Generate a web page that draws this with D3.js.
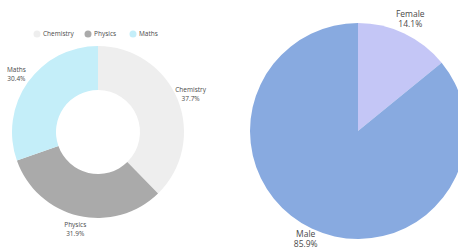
<!DOCTYPE html>
<html>
    <head>
        <script src="https://d3js.org/d3.v7.min.js"></script>
        <style>
          body { margin: 0; background: #ffffff; }
          #chart { width: 458px; height: 251px; position: relative; }
          text { font-family: "Open Sans", "Noto Sans", sans-serif; fill: #4a4a4a; }
      </style>
    </head>
    <body>
        <div id="chart"></div>
        <script>
            /* DATA */
            var subjects = ["Chemistry", "Physics", "Maths"];
            var subjectValues = [37.7, 31.9, 30.4];
            var subjectColors = ["#eeeeee", "#aaaaaa", "#c4eef9"];

            var genders = ["Female", "Male"];
            var genderValues = [14.1, 85.9];
            var genderColors = ["#c4c6f6", "#88aae0"];

            var width = 458, height = 251;
            var svg = d3.select("#chart").append("svg")
                .attr("width", width)
                .attr("height", height);

            var pie = d3.pie().sort(null).value(function(d) { return d.value; });

            /* DONUT */
            var donutData = subjects.map(function(s, i) { return {name: s, value: subjectValues[i], color: subjectColors[i]}; });
            var donut = svg.append("g").attr("transform", "translate(98,132)");
            var donutArc = d3.arc().innerRadius(42).outerRadius(86);
            var donutLabel = d3.arc().innerRadius(100).outerRadius(100);

            donut.selectAll("path")
                .data(pie(donutData))
                .enter()
                .append("path")
                    .attr("d", donutArc)
                    .attr("fill", function(d) { return d.data.color; });

            var dl = donut.selectAll("text.lbl")
                .data(pie(donutData))
                .enter()
                .append("text")
                    .attr("class", "lbl")
                    .attr("transform", function(d) { return "translate(" + donutLabel.centroid(d) + ")"; })
                    .attr("text-anchor", "middle")
                    .style("font-size", "6.5px");
            dl.append("tspan").attr("x", 0).attr("dy", "-0.3em").text(function(d) { return d.data.name; });
            dl.append("tspan").attr("x", 0).attr("dy", "1.35em").text(function(d) { return d.data.value.toFixed(1) + "%"; });

            /* LEGEND */
            var legendX = d3.scaleOrdinal().domain(subjects).range([37, 88, 133]);
            var legend = svg.append("g").selectAll("g")
                .data(donutData)
                .enter()
                .append("g")
                    .attr("transform", function(d) { return "translate(" + legendX(d.name) + ",34)"; });
            legend.append("circle").attr("r", 3.5).attr("fill", function(d) { return d.color; });
            legend.append("text")
                .attr("x", 6)
                .attr("dy", "0.35em")
                .style("font-size", "6.5px")
                .text(function(d) { return d.name; });

            /* PIE */
            var pieData = genders.map(function(g, i) { return {name: g, value: genderValues[i], color: genderColors[i]}; });
            var pieG = svg.append("g").attr("transform", "translate(358,131)");
            var pieArc = d3.arc().innerRadius(0).outerRadius(108);
            var pieLabel = d3.arc().innerRadius(122).outerRadius(122);

            pieG.selectAll("path")
                .data(pie(pieData))
                .enter()
                .append("path")
                    .attr("d", pieArc)
                    .attr("fill", function(d) { return d.data.color; });

            var pl = pieG.selectAll("text.lbl")
                .data(pie(pieData))
                .enter()
                .append("text")
                    .attr("class", "lbl")
                    .attr("transform", function(d) { return "translate(" + pieLabel.centroid(d) + ")"; })
                    .attr("text-anchor", "middle")
                    .style("font-size", "8.5px");
            pl.append("tspan").attr("x", 0).attr("dy", "-0.45em").text(function(d) { return d.data.name; });
            pl.append("tspan").attr("x", 0).attr("dy", "1.15em").text(function(d) { return d.data.value.toFixed(1) + "%"; });
        </script>
    </body>
</html>
